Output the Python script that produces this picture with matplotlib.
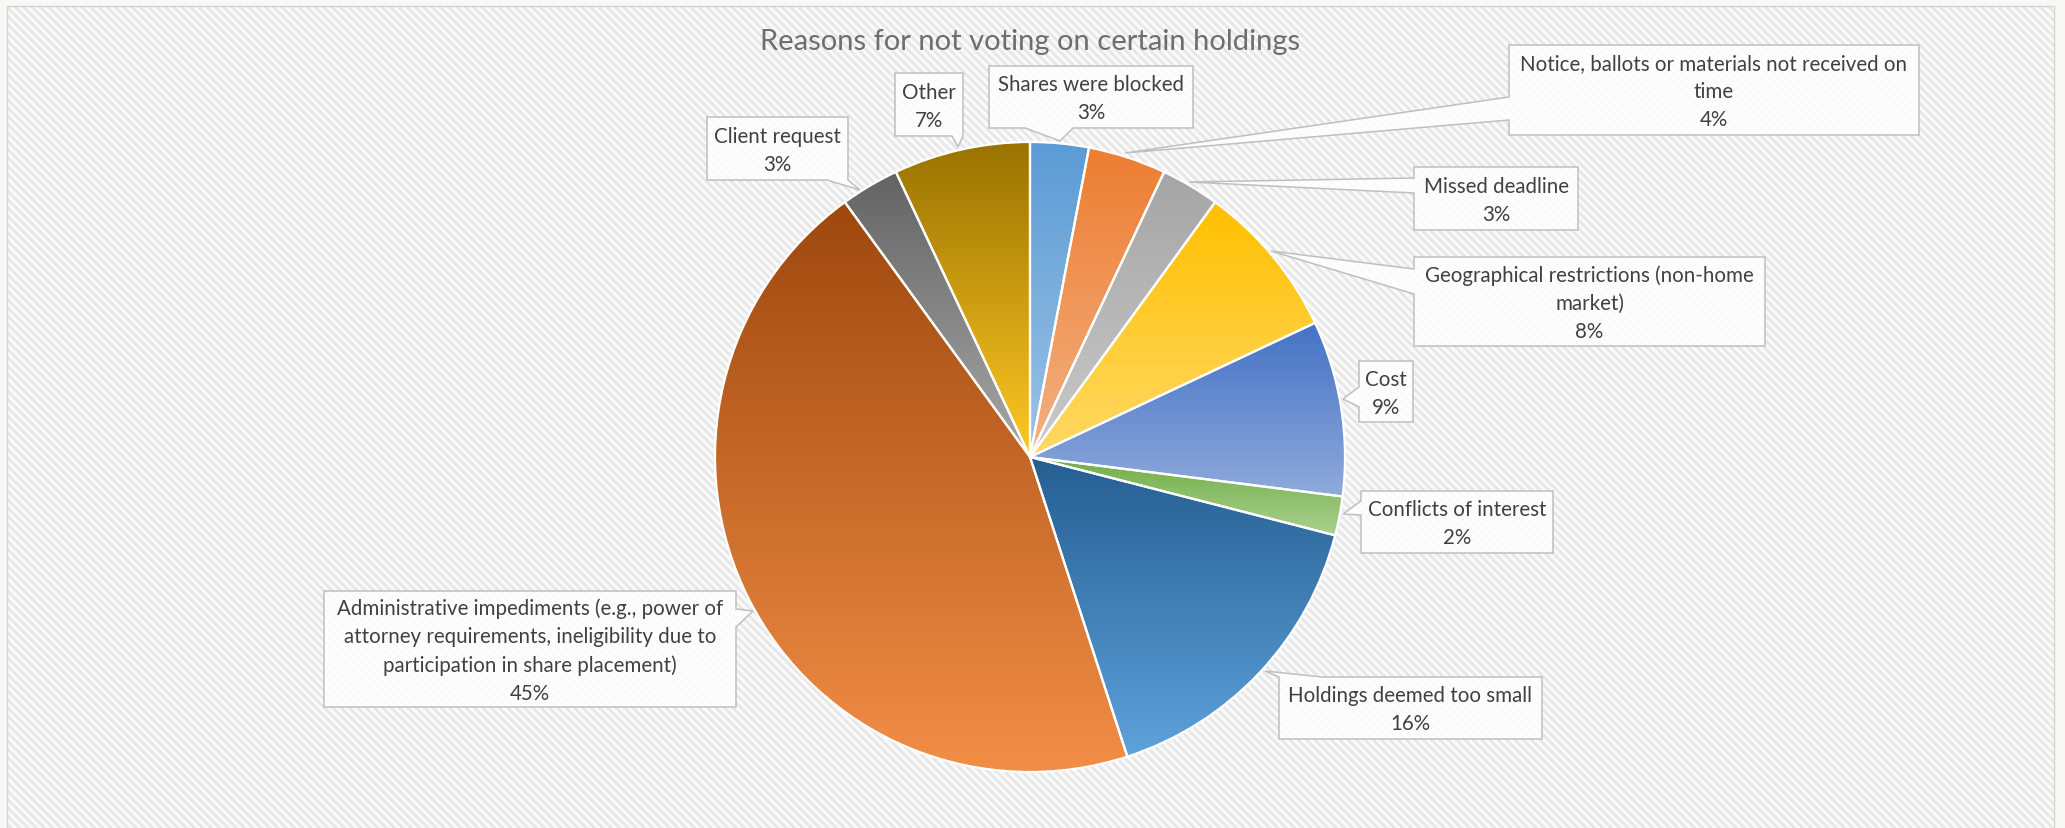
import numpy as np
import matplotlib.pyplot as plt
from matplotlib.patches import Rectangle, Polygon
from matplotlib.colors import to_rgb

plt.rcParams['font.family'] = ['Lato', 'DejaVu Sans']
plt.rcParams['hatch.linewidth'] = 2.0

title = "Reasons for not voting on certain holdings"
reasons = [
    "Shares were blocked",
    "Notice, ballots or materials not received on\ntime",
    "Missed deadline",
    "Geographical restrictions (non-home\nmarket)",
    "Cost",
    "Conflicts of interest",
    "Holdings deemed too small",
    "Administrative impediments (e.g., power of\nattorney requirements, ineligibility due to\nparticipation in share placement)",
    "Client request",
    "Other",
]
shares = [3, 4, 3, 8, 9, 2, 16, 45, 3, 7]

# gradient ends per slice (top -> bottom)
top_colors = ["#5b9bd5", "#ed7d31", "#a5a5a5", "#ffc000", "#4472c4",
              "#70ad47", "#255e91", "#9e480e", "#636363", "#997300"]
bottom_colors = ["#9dc3e6", "#f4b183", "#cacaca", "#ffd966", "#8faadc",
                 "#a9d18e", "#5ea2dc", "#f28e46", "#a8a8a8", "#ffc824"]

# callout boxes in pixels (x0, y0, x1, y1), y downwards
boxes = [
    (989, 67, 1193, 129),
    (1509, 46, 1919, 136),
    (1414, 168, 1578, 231),
    (1414, 258, 1765, 347),
    (1359, 362, 1413, 423),
    (1361, 492, 1553, 554),
    (1279, 678, 1542, 740),
    (324, 592, 736, 708),
    (707, 118, 848, 181),
    (895, 74, 963, 137),
]
# tail: edge, start/end along that edge, tip
tails = [
    ("bottom", 1025, 1073, (1060, 142)),
    ("left", 98, 121, (1125, 154)),
    ("left", 179, 194, (1189, 183)),
    ("left", 270, 295, (1271, 252)),
    ("left", 388, 408, (1343, 400)),
    ("left", 502, 516, (1343, 515)),
    ("top", 1279, 1322, (1265, 672)),
    ("right", 610, 628, (753, 612)),
    ("bottom", 827, 848, (860, 191)),
    ("bottom", 952, 963, (958, 148)),
]

W, H = 2065, 829
fig = plt.figure(figsize=(W / 100, H / 100), dpi=100, facecolor="#f9f8f4")
ax = fig.add_axes([0, 0, 1, 1])

wedges, _ = ax.pie(shares, colors=top_colors, center=(1030, 458), radius=315,
                   startangle=-90, counterclock=True,
                   wedgeprops=dict(edgecolor="white", linewidth=1.6))

# chart area with fine diagonal stripes
area = Rectangle((7, 7), 2047, 830, facecolor="#fafafa", edgecolor="#e7e7e7",
                 hatch="\\\\\\\\", linewidth=0, zorder=0)
ax.add_patch(area)
ax.add_patch(Rectangle((7, 7), 2047, 830, facecolor="none", edgecolor="#d4d4d4",
                       linewidth=1.0, zorder=0.5))

t = np.linspace(0, 1, 256)[:, None, None]
for w, c0, c1 in zip(wedges, top_colors, bottom_colors):
    ext = w.get_path().get_extents()
    grad = np.array(to_rgb(c0)) * (1 - t) + np.array(to_rgb(c1)) * t
    im = ax.imshow(grad, extent=(ext.x0, ext.x1, ext.y1, ext.y0), origin="upper",
                   interpolation="bilinear", aspect="auto", zorder=1)
    im.set_clip_path(w)
    w.set_facecolor("none")
    w.set_zorder(2)


def callout(box, tail):
    x0, y0, x1, y1 = box
    side, a, b, tip = tail
    if side == "top":
        pts = [(x0, y0), (a, y0), tip, (b, y0), (x1, y0), (x1, y1), (x0, y1)]
    elif side == "right":
        pts = [(x0, y0), (x1, y0), (x1, a), tip, (x1, b), (x1, y1), (x0, y1)]
    elif side == "bottom":
        pts = [(x0, y0), (x1, y0), (x1, y1), (b, y1), tip, (a, y1), (x0, y1)]
    else:
        pts = [(x0, y0), (x1, y0), (x1, y1), (x0, y1), (x0, b), tip, (x0, a)]
    return Polygon(pts, closed=True, facecolor=(1, 1, 1, 0.85),
                   edgecolor="#bfbfbf", linewidth=1.1, zorder=3)


for name, val, box, tail in zip(reasons, shares, boxes, tails):
    ax.add_patch(callout(box, tail))
    x0, y0, x1, y1 = box
    ax.text((x0 + x1) / 2, (y0 + y1) / 2 + 1, f"{name}\n{val}%", ha="center", va="center",
            multialignment="center", fontsize=14.8, color="#404040",
            linespacing=1.5, zorder=4)

ax.text(1030, 42, title, ha="center", va="center", fontsize=21, color="#6e6e6e", zorder=4)

ax.set_xlim(0, W)
ax.set_ylim(H, 0)
ax.set_aspect("auto")
ax.axis("off")

fig.savefig("out.png", dpi=100, facecolor=fig.get_facecolor())
